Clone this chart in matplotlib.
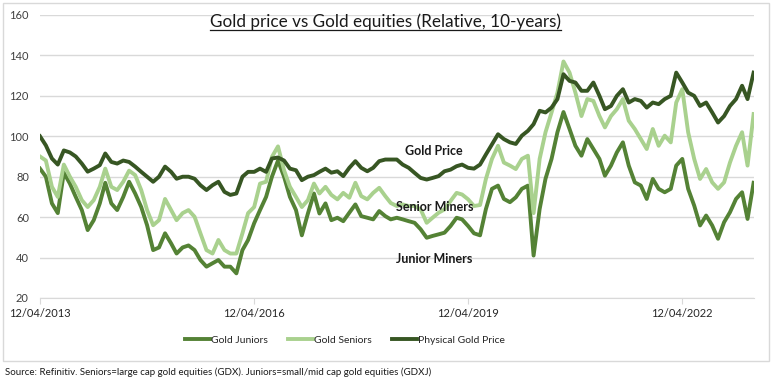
import pandas as pd
import matplotlib
matplotlib.use("Agg")
from matplotlib import pyplot as plt
from matplotlib import dates as mdates
from matplotlib.lines import Line2D
from matplotlib.patches import Rectangle

plt.rcParams['font.family'] = ['Lato', 'DejaVu Sans']

# monthly readings, 12/04/2013 .. 12/04/2023 (rebased, 100 = start)
dates = pd.date_range('2013-04-12', periods=121, freq=pd.DateOffset(months=1))

gold_price = [
    100, 95.5, 89, 86, 93, 92, 90, 86.5, 82.5, 84, 85.7, 91.5, 87.3, 86.5, 88, 87.3,
    85, 82.4, 80, 77.5, 80, 85, 82.4, 79, 80,
    80, 79, 75.8, 73.4, 75.8, 77.5, 72.5, 71, 71.7, 80, 82.4, 82.4, 84, 82.4, 89, 89.5,
    88, 84, 83.2, 78.3, 80, 80.8, 82.4, 84, 82,
    82.7, 80.3, 84.4, 87.7, 84.4, 82.7, 84.4, 87.7, 88.5, 88.5, 88.5, 86, 84.4, 81.9,
    79.4, 78.6, 79.4, 80.3, 82.7, 83.5, 85.2, 86, 84.4, 84,
    86, 91, 96, 101, 98.6, 97, 96.2, 100.3, 102.7, 106, 112.6, 111.8, 114.2, 118.4,
    130.7, 127.4, 126.6, 122.5, 122.5, 126.6, 120, 113.4, 115, 120, 123.3,
    116.7, 118.4, 117.5, 114.2, 116.7, 115.9, 118.4, 120, 131.5, 126.6, 121.6, 120,
    115, 116.7, 111.8, 106.8, 110, 115, 118.4, 125, 118.4, 131.5,
]

gold_seniors = [
    90, 88, 75, 70, 86, 80, 75, 68.4, 65, 68.4, 75, 84, 75, 73.4, 77.5, 83,
    80.8, 73.4, 63.5, 56, 58.5, 69, 63.5, 58.5, 62,
    63.5, 60.2, 52, 43.7, 42, 48.7, 43.7, 42, 42, 52, 62, 65, 76.6, 77.5, 89.8, 95,
    83.2, 75, 70, 65, 68.4, 76.6, 71.7, 75, 71,
    68.8, 72, 69.6, 77, 70.4, 68.8, 72, 74.5, 70.4, 67, 65.5, 66.3, 65.5, 65.5,
    63.8, 57.2, 59.7, 62.2, 63.8, 68, 72, 71.2, 68.8, 65.5,
    66, 78.9, 88.8, 95.3, 87, 85.5, 83.8, 88.8, 90.4, 62, 88.8, 102, 111.8, 121.6,
    137, 131.5, 121.6, 110, 118.4, 117.5, 110, 104.4, 110, 113.4, 118.4,
    107.7, 103.6, 98.6, 93.7, 103.6, 95.3, 100.3, 97, 116.7, 123.3, 102, 88.8,
    78.9, 83.8, 77.2, 74, 77.2, 87, 95.3, 102, 85.5, 111,
]

gold_juniors = [
    84, 80, 66.8, 62, 82, 76.6, 70, 63.5, 53.6, 58.5, 66.8, 77, 66.8, 63.5, 70, 77.5,
    71.7, 65, 56, 43.7, 45, 52, 47, 42, 45,
    46, 43.7, 38.8, 35.5, 37.2, 38.8, 35.5, 35.5, 32.2, 43.7, 48.7, 57, 63.5, 70, 80, 88,
    80, 70, 63.5, 51, 61.8, 71.7, 61.8, 66.8, 58.5,
    59.7, 58, 62.2, 66.3, 60.5, 59.7, 58.9, 63, 60.5, 58.9, 59.7, 58.9, 58, 57.2,
    54, 49.8, 50.7, 51.5, 52.3, 55.6, 59.7, 58.9, 55.6, 52,
    51, 64, 74, 75.6, 69, 67.4, 69.8, 74, 75.6, 41, 64, 79, 88.8, 102,
    112, 103.6, 95.3, 90.4, 98.6, 93.7, 88.8, 80.5, 85.5, 92, 97,
    85.5, 77.2, 75.6, 69, 78.9, 74, 72.3, 74, 85.5, 88.8, 74, 65.7,
    55.9, 60.8, 55.9, 49.3, 57.5, 62.4, 69, 72.3, 59.1, 77,
]

series_names = ['Gold Juniors', 'Gold Seniors', 'Physical Gold Price']
tick_dates = ['2013-04-12', '2016-04-12', '2019-04-12', '2022-04-12']
colors = ['#548235', '#a9d18e', '#375623']

fig = plt.figure(figsize=(7.77, 3.84), dpi=100)
fig.patches.append(Rectangle((3 / 777, 1 - 361 / 384), 766 / 777, 358 / 384,
                             transform=fig.transFigure, fill=False,
                             edgecolor='#d9d9d9', linewidth=1))

ax = fig.add_axes([40 / 777, 1 - 298 / 384, 714 / 777, 283 / 384])

for vals, c, name in zip([gold_juniors, gold_seniors, gold_price], colors, series_names):
    ax.plot(dates, vals, color=c, lw=2.8, label=name)

ax.set_ylim(20, 160)
ax.set_yticks(range(20, 161, 20))
ax.set_xlim(pd.Timestamp('2013-04-12'), pd.Timestamp('2023-04-14'))
ax.set_xticks(pd.to_datetime(tick_dates))
ax.xaxis.set_major_formatter(mdates.DateFormatter('%d/%m/%Y'))

ax.grid(axis='y', color='#d9d9d9', lw=1)
ax.set_axisbelow(True)
for s in ['top', 'right', 'left']:
    ax.spines[s].set_visible(False)
ax.spines['bottom'].set_color('#d9d9d9')
ax.tick_params(axis='y', length=0, labelsize=8, pad=8, colors='#404040')
ax.tick_params(axis='x', length=4, color='#d9d9d9', labelsize=8, pad=3,
               labelcolor='#262626')

ttl = fig.text(0.496, 1 - 22 / 384, 'Gold price vs Gold equities (Relative, 10-years)',
               ha='center', va='center', fontsize=12.3, color='#1a1a1a')

ann = dict(ha='center', va='center', fontsize=9, fontweight='bold', color='#1a1a1a')
ax.text(pd.Timestamp('2018-10-20'), 92.5, 'Gold Price', **ann)
ax.text(pd.Timestamp('2018-10-25'), 65, 'Senior Miners', **ann)
ax.text(pd.Timestamp('2018-10-20'), 39.5, 'Junior Miners', **ann)

handles = [Line2D([], [], color=c, lw=2.8) for c in colors]
fig.legend(handles, series_names, loc='center', bbox_to_anchor=(345 / 777, 1 - 340 / 384),
           ncol=3, frameon=False, fontsize=7.5, handlelength=2.4, handletextpad=0.1,
           columnspacing=1.9, labelcolor='#262626')

fig.text(5 / 777, 1 - 372 / 384,
         'Source: Refinitiv. Seniors=large cap gold equities (GDX). '
         'Juniors=small/mid cap gold equities (GDXJ)',
         ha='left', va='center', fontsize=7, color='#1a1a1a')

# underline the title
fig.canvas.draw()
bb = ttl.get_window_extent().transformed(fig.transFigure.inverted())
fig.add_artist(Line2D([bb.x0, bb.x1], [bb.y0 + 0.002, bb.y0 + 0.002],
                      transform=fig.transFigure, color='#1a1a1a', lw=0.9))

fig.savefig('out.png', dpi=100, facecolor='white')
